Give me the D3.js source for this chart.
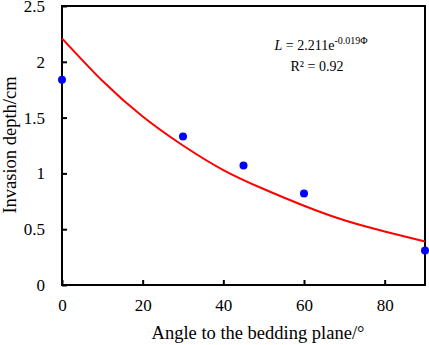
<!DOCTYPE html>
<html>
<head>
<meta charset="utf-8">
<script src="https://cdn.jsdelivr.net/npm/d3@7"></script>
<style>
	body { margin: 0; background: #fff; }
	text { font-family: "Liberation Serif", "Times New Roman", serif; fill: #000; }
</style>
</head>
<body>
<div class="chart"></div>
<script>
const WIDTH = 429;
const HEIGHT = 345;
const MARGIN = {top: 6, right: 4, bottom: 60, left: 62};

const INNER_WIDTH = WIDTH - MARGIN.left - MARGIN.right;
const INNER_HEIGHT = HEIGHT - MARGIN.top - MARGIN.bottom;

// measured points
var angles = [0, 30, 45, 60, 90];
var depths = [1.84, 1.33, 1.07, 0.82, 0.31];

// fitted curve
var fitAngles = [0, 10, 20, 30, 40, 50, 60, 70, 80, 90];
var fitDepths = [2.21, 1.83, 1.51, 1.25, 1.03, 0.86, 0.71, 0.58, 0.48, 0.39];

var xTicks = [0, 20, 40, 60, 80];
var yTicks = [0, 0.5, 1, 1.5, 2, 2.5];

var translate = function(x, y){
	return "translate(" + x + "," + y + ")";
};

var svg = d3.select(".chart").append("svg")
	.attr("width", WIDTH)
	.attr("height", HEIGHT);

var g = svg.append("g").attr("transform", translate(MARGIN.left, MARGIN.top));

var _xScale = d3.scaleLinear().domain([0, 90]).range([0, INNER_WIDTH]);
var _yScale = d3.scaleLinear().domain([0, 2.5]).range([INNER_HEIGHT, 0]);

var xAxis = d3.axisBottom(_xScale).tickValues(xTicks).tickSize(-5).tickPadding(14).tickFormat(d3.format("d"));
var yAxis = d3.axisLeft(_yScale).tickValues(yTicks).tickSize(-5).tickPadding(17).tickFormat(function(d){ return String(d); });

var gx = g.append("g")
	.attr("transform", translate(0, INNER_HEIGHT))
	.call(xAxis);
var gy = g.append("g").call(yAxis);

[gx, gy].forEach(function(a){
	a.select(".domain").remove();
	a.selectAll(".tick line").attr("stroke", "#000").attr("stroke-width", 2);
	a.selectAll(".tick text").style("font-size", "17px");
});

// frame
g.append("rect")
	.attr("width", INNER_WIDTH)
	.attr("height", INNER_HEIGHT)
	.attr("fill", "none")
	.attr("stroke", "#000")
	.attr("stroke-width", 2);

var _line = d3.line()
	.x(function(d, i){ return _xScale(fitAngles[i]); })
	.y(function(d){ return _yScale(d); })
	.curve(d3.curveNatural);

g.append("path")
	.attr("d", _line(fitDepths))
	.attr("fill", "none")
	.attr("stroke", "#ff0000")
	.attr("stroke-width", 2);

g.selectAll("circle")
	.data(depths)
	.enter()
	.append("circle")
	.attr("cx", function(d, i){ return _xScale(angles[i]); })
	.attr("cy", function(d){ return _yScale(d); })
	.attr("r", 4)
	.attr("fill", "#0000ff");

// equation
var eq = svg.append("text")
	.attr("x", 321)
	.attr("y", 50)
	.attr("text-anchor", "middle")
	.style("font-size", "14px");
eq.append("tspan").style("font-style", "italic").text("L");
eq.append("tspan").text(" = 2.211e");
eq.append("tspan").attr("dy", -6).style("font-size", "10px").text("-0.019Φ");

svg.append("text")
	.attr("x", 317)
	.attr("y", 71)
	.attr("text-anchor", "middle")
	.style("font-size", "14px")
	.text("R² = 0.92");

svg.append("text")
	.attr("x", 258)
	.attr("y", 339)
	.attr("text-anchor", "middle")
	.style("font-size", "18.5px")
	.text("Angle to the bedding plane/°");

svg.append("text")
	.attr("transform", translate(16, 145) + " rotate(-90)")
	.attr("text-anchor", "middle")
	.style("font-size", "18.5px")
	.text("Invasion depth/cm");
</script>
</body>
</html>
